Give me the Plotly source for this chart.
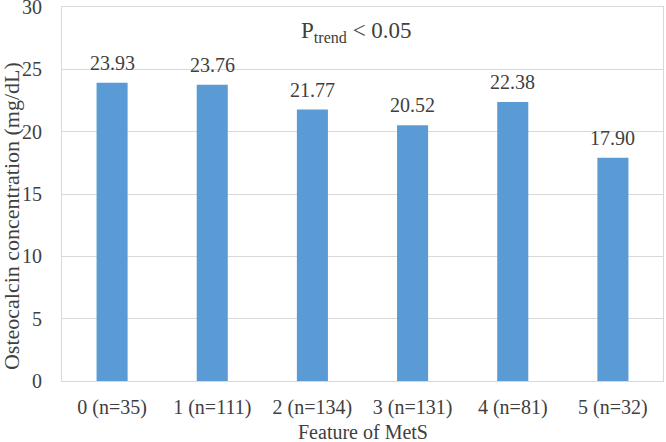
import plotly.graph_objects as go

categories = ["0 (n=35)", "1 (n=111)", "2 (n=134)", "3 (n=131)", "4 (n=81)", "5 (n=32)"]
values = [23.93, 23.76, 21.77, 20.52, 22.38, 17.90]
value_labels = ["23.93", "23.76", "21.77", "20.52", "22.38", "17.90"]
y_ticks = [0, 5, 10, 15, 20, 25, 30]

FONT = "Liberation Serif"
TXT = "#404040"

fig = go.Figure()
fig.add_trace(go.Bar(
    x=categories, y=values,
    marker=dict(color="#5B9BD5", line=dict(width=0)),
    hoverinfo="skip",
))

label_annotations = [
    dict(x=c, y=v, xref="x", yref="y", text=t, showarrow=False,
         yanchor="bottom", yshift=7,
         font=dict(family=FONT, size=20, color=TXT))
    for c, v, t in zip(categories, values, value_labels)
]

title_annotations = [
    dict(x=-0.0849, y=0.441, xref="paper", yref="paper", textangle=-90,
         text="Osteocalcin concentration (mg/dL)", showarrow=False,
         xanchor="center", yanchor="middle",
         font=dict(family=FONT, size=22, color=TXT)),
    dict(x=0.501, y=-0.136, xref="paper", yref="paper",
         text="Feature of MetS", showarrow=False,
         xanchor="center", yanchor="middle",
         font=dict(family=FONT, size=20, color=TXT)),
    dict(x=0.49, y=0.933, xref="paper", yref="paper",
         text="P<sub>trend</sub> &lt; 0.05", showarrow=False,
         xanchor="center", yanchor="middle",
         font=dict(family=FONT, size=23, color=TXT)),
]

fig.update_layout(
    width=666, height=442,
    autosize=False,
    margin=dict(l=62, r=3, t=7, b=61),
    paper_bgcolor="white", plot_bgcolor="white",
    bargap=0.69,
    showlegend=False,
    font=dict(family=FONT, color=TXT),
    xaxis=dict(
        automargin=False,
        showgrid=False, showline=True, linecolor="#d9d9d9", linewidth=1, mirror=True,
        ticks="", tickfont=dict(family=FONT, size=20, color=TXT),
        ticklabelstandoff=8,
    ),
    yaxis=dict(
        automargin=False,
        range=[0, 30], tickvals=y_ticks, showgrid=True, gridcolor="#d9d9d9", gridwidth=1,
        showline=True, linecolor="#d9d9d9", linewidth=1, mirror=True,
        zeroline=False, ticks="", tickfont=dict(family=FONT, size=20, color=TXT),
        ticklabelstandoff=15, ticklabeloverflow="allow",
    ),
    annotations=label_annotations + title_annotations,
)

fig.write_html(
    "out.html",
    config={"responsive": False, "displayModeBar": False},
    default_width="666px", default_height="442px",
    post_script="document.body.style.margin='0';document.body.style.overflow='hidden';",
)
